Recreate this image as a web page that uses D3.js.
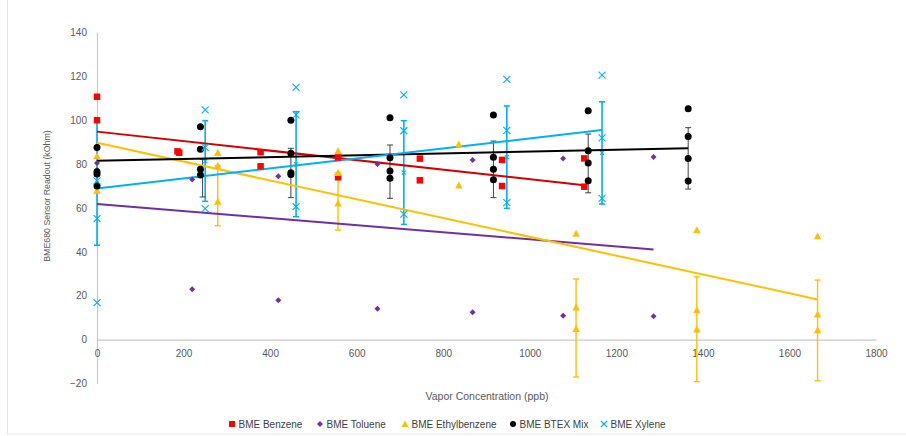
<!DOCTYPE html>
<html>
<head>
<meta charset="utf-8">
<script src="https://cdn.jsdelivr.net/npm/d3@7"></script>
<style>
  html, body { margin: 0; padding: 0; background: #fff; }
  svg { display: block; font-family: "Liberation Sans", Arial, sans-serif; }
</style>
</head>
<body>
<svg id="chart" width="906" height="436"></svg>
<script>
// ---- data ----
const seriesNames = ["BME Benzene", "BME Toluene", "BME Ethylbenzene", "BME BTEX Mix", "BME Xylene"];

const benzeneX = [0, 0, 186, 190, 378, 378, 557, 557, 746, 746, 936, 936, 1126, 1126];
const benzeneY = [110.7, 100, 85.8, 85.2, 85.4, 79, 83, 74, 82.5, 72.6, 81.9, 70, 82.6, 69.7];

const tolueneX = [0, 0, 220, 220, 419, 419, 648, 648, 868, 868, 1077, 1077, 1286, 1286];
const tolueneY = [80.5, 77.3, 73, 22.9, 74.4, 17.9, 80, 14, 81.9, 12.4, 82.6, 10.8, 83.2, 10.6];

const ethylX = [0, 0, 279, 279, 279, 557, 557, 557, 836, 836, 1107, 1107, 1107, 1386, 1386, 1386, 1665, 1665, 1665];
const ethylY = [83.7, 67.9, 85.2, 79.3, 62.9, 86.1, 76.1, 62.1, 89, 70.3, 48.4, 14.7, 4.9, 49.9, 13.5, 4.7, 47.2, 11.5, 4.3];

const btexX = [0, 0, 0, 0, 239, 239, 239, 239, 448, 448, 448, 448, 677, 677, 677, 677, 916, 916, 916, 916, 1135, 1135, 1135, 1135, 1366, 1366, 1366, 1366];
const btexY = [87.6, 76.5, 75.5, 70, 97, 86.8, 77.7, 75, 100, 84.9, 76.1, 75.3, 101.1, 82.9, 76.8, 73.5, 102.4, 83.1, 77.6, 72.9, 104.3, 86.1, 80.5, 72.4, 105.2, 92.6, 82.6, 72.3];

const xyleneX = [0, 0, 0, 250, 250, 250, 460, 460, 460, 709, 709, 709, 947, 947, 947, 1167, 1167, 1167];
const xyleneY = [72.3, 55.1, 16.8, 104.7, 87.6, 59.7, 115, 102.4, 60.6, 111.6, 95.2, 57.2, 118.6, 95.4, 62.4, 120.6, 92, 64.4];

// error bars (low / high)
const ethylErrX = [279, 557, 1107, 1386, 1665];
const ethylErrLow = [51.9, 49.9, -17.1, -19.2, -18.8];
const ethylErrHigh = [79.3, 76.1, 27.6, 28.6, 27.1];

const btexErrX = [244, 448, 677, 916, 1135, 1366];
const btexErrLow = [65, 64.7, 64.4, 64.7, 66.9, 68.6];
const btexErrHigh = [82.2, 87.2, 88.7, 90.5, 93.7, 96.6];

const xyleneErrX = [0, 250, 460, 709, 947, 1167];
const xyleneErrLow = [43, 63, 56, 52.5, 59.8, 61.8];
const xyleneErrHigh = [99.5, 99.8, 103.9, 99.8, 106.5, 108.4];

// linear trend lines (start / end of each fit)
const trendStartX = [0, 0, 0, 0, 0];
const trendStartY = [94.8, 61.8, 89.7, 81.5, 68.9];
const trendEndX = [1126, 1286, 1665, 1366, 1167];
const trendEndY = [70.4, 41.1, 18.3, 87.2, 95.5];

const xTicks = [0, 200, 400, 600, 800, 1000, 1200, 1400, 1600, 1800];
const yTicks = [-20, 0, 20, 40, 60, 80, 100, 120, 140];

// ---- styling ----
const markerColors = ["#ff0000", "#7030a0", "#ffc000", "#000000", "#00b0f0"];
const trendColors = ["#d00000", "#7030a0", "#ffc000", "#000000", "#00b0f0"];
const markerShapes = ["square", "diamond", "triangle", "circle", "cross"];

const svg = d3.select("#chart");

// chart area frame
svg.append("rect")
  .attr("x", 7.5).attr("y", -10).attr("width", 920).attr("height", 444)
  .attr("fill", "none").attr("stroke", "#e3e3e3");

const x = d3.scaleLinear().domain([0, 1800]).range([97, 876]);
const y = d3.scaleLinear().domain([-20, 140]).range([383.4, 32.5]);

// axes
const yAxis = svg.append("g")
  .attr("transform", `translate(${x(0)},0)`)
  .call(d3.axisLeft(y).tickValues(yTicks).tickSize(0).tickPadding(10).tickFormat(d3.format("d")));
const xAxis = svg.append("g")
  .attr("transform", `translate(0,${y(0)})`)
  .call(d3.axisBottom(x).tickValues(xTicks).tickSize(0).tickPadding(10).tickFormat(d3.format("d")));
[xAxis, yAxis].forEach(g => {
  g.select(".domain").attr("stroke", "#c8c8c8").attr("stroke-width", 1.2);
  g.selectAll("text").attr("fill", "#595959").attr("font-size", 10)
    .attr("font-family", "Liberation Sans, Arial, sans-serif");
});

// axis titles
svg.append("text")
  .attr("x", 487).attr("y", 400)
  .attr("text-anchor", "middle").attr("font-size", 10.5).attr("fill", "#595959")
  .text("Vapor Concentration (ppb)");
svg.append("text")
  .attr("transform", `translate(50,196) rotate(-90)`)
  .attr("text-anchor", "middle").attr("font-size", 8.8).attr("fill", "#595959")
  .text("BME680 Sensor Readout (kOhm)");

// marker drawing helper
function drawMarker(sel, shape, color, size) {
  const s = size;
  if (shape === "square") {
    sel.append("rect").attr("x", -s / 2).attr("y", -s / 2).attr("width", s).attr("height", s).attr("fill", color);
  } else if (shape === "diamond") {
    sel.append("path").attr("d", `M0,${-s / 2}L${s / 2},0L0,${s / 2}L${-s / 2},0Z`).attr("fill", color);
  } else if (shape === "triangle") {
    sel.append("path").attr("d", `M0,${-s / 2 - 0.5}L${s / 2 + 0.5},${s / 2}L${-s / 2 - 0.5},${s / 2}Z`).attr("fill", color);
  } else if (shape === "circle") {
    sel.append("circle").attr("r", s / 2).attr("fill", color);
  } else if (shape === "cross") {
    const h = s / 2;
    sel.append("path").attr("d", `M${-h},${-h}L${h},${h}M${-h},${h}L${h},${-h}`)
      .attr("stroke", color).attr("stroke-width", 1.1).attr("fill", "none");
  }
}

// error bars
function drawErrorBars(xs, lows, highs, color, width) {
  const g = svg.append("g").attr("stroke", color).attr("stroke-width", width).attr("fill", "none");
  xs.forEach((xv, i) => {
    const px = x(xv), y1 = y(lows[i]), y2 = y(highs[i]);
    g.append("line").attr("x1", px).attr("x2", px).attr("y1", y1).attr("y2", y2);
    g.append("line").attr("x1", px - 3).attr("x2", px + 3).attr("y1", y1).attr("y2", y1);
    g.append("line").attr("x1", px - 3).attr("x2", px + 3).attr("y1", y2).attr("y2", y2);
  });
  return g;
}
drawErrorBars(xyleneErrX, xyleneErrLow, xyleneErrHigh, "#00b0f0", 1.6);
drawErrorBars(btexErrX, btexErrLow, btexErrHigh, "#404040", 1);
drawErrorBars(ethylErrX, ethylErrLow, ethylErrHigh, "#ffc000", 1.4);

// small markers at the centre of each xylene bar
svg.append("g").selectAll("g")
  .data(xyleneErrX.map((xv, i) => [xv, (xyleneErrLow[i] + xyleneErrHigh[i]) / 2]))
  .join("g")
  .attr("transform", d => `translate(${x(d[0])},${y(d[1])})`)
  .each(function () { drawMarker(d3.select(this), "cross", "#00b0f0", 4); });

// trend lines
const trendG = svg.append("g");
seriesNames.forEach((name, i) => {
  trendG.append("line")
    .attr("x1", x(trendStartX[i])).attr("y1", y(trendStartY[i]))
    .attr("x2", x(trendEndX[i])).attr("y2", y(trendEndY[i]))
    .attr("stroke", trendColors[i]).attr("stroke-width", 2);
});

// scatter markers
const seriesXs = [benzeneX, tolueneX, ethylX, btexX, xyleneX];
const seriesYs = [benzeneY, tolueneY, ethylY, btexY, xyleneY];
const markerSizes = [6.5, 6, 6.5, 7, 7];
seriesNames.forEach((name, i) => {
  const pts = seriesXs[i].map((xv, j) => [xv, seriesYs[i][j]]);
  svg.append("g").attr("class", "series")
    .selectAll("g").data(pts).join("g")
    .attr("transform", d => `translate(${x(d[0])},${y(d[1])})`)
    .each(function () { drawMarker(d3.select(this), markerShapes[i], markerColors[i], markerSizes[i]); });
});

// legend
const legendX = [232, 320, 405, 513, 604];
const legend = svg.append("g");
seriesNames.forEach((name, i) => {
  const item = legend.append("g").attr("transform", `translate(${legendX[i]},424)`);
  drawMarker(item.append("g"), markerShapes[i], markerColors[i], 6);
  item.append("text").attr("x", 6.5).attr("y", 3.6)
    .attr("font-size", 10).attr("fill", "#404040").text(name);
});
</script>
</body>
</html>
